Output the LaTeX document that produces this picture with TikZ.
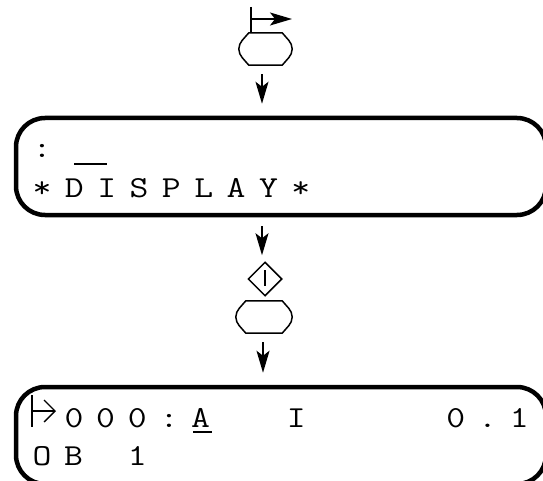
\documentclass[tikz,border=0pt]{standalone}
\usepackage{fontspec}
\usepackage{tikz}
\usetikzlibrary{arrows.meta,calc,shapes.geometric}

\newfontfamily\lcdfont[FakeStretch=1.2]{Latin Modern Mono}
\newcommand{\lcdsetup}{\fontsize{30.5}{30.5}\lcdfont\selectfont\frenchspacing\fontdimen2\font=12.8pt\relax}

\tikzset{
  lcdbox/.style={draw,line width=4.5pt,rounded corners=29pt,minimum width=530pt,minimum height=97pt,inner sep=0pt},
  lcdtext/.style={anchor=base west,inner sep=0pt,font=\lcdsetup},
  keycap/.style={minimum width=#1,minimum height=32pt,inner sep=0pt},
  keyline/.style={line width=1.5pt,line join=round},
  flowarrow/.style={line width=1.5pt,-{Stealth[length=22pt,width=13pt,inset=5pt]}}
}

\begin{document}
\begin{tikzpicture}[x=1pt,y=-1pt]
    \clip (0,0) rectangle (543,481); \useasboundingbox (0,0) rectangle (543,481);
    \coordinate (flow) at (262,0);

    \node[keycap=53pt] (keytop) at (265.5,49) {};
    \node[lcdbox] (lcdone) at (281,166.5) {};
    \node[draw,diamond,line width=1.5pt,minimum size=34pt,inner sep=0pt] (enter) at (265,279) {};
    \node[keycap=56pt] (keylow) at (264,317) {};
    \node[lcdbox] (lcdtwo) at (281,435.5) {};

    % key outlines
    \foreach \k in {keytop,keylow} {
      \draw[keyline] ($(\k.north west)+(10,0)$) -- ($(\k.north east)+(-10,0)$)
        .. controls ($(\k.east)+(-6,-11)$) and ($(\k.east)+(0,-7)$) .. (\k.east)
        .. controls ($(\k.east)+(0,7)$) and ($(\k.east)+(-6,11)$) .. ($(\k.south east)+(-10,0)$)
        -- ($(\k.south west)+(10,0)$)
        .. controls ($(\k.west)+(6,11)$) and ($(\k.west)+(0,7)$) .. (\k.west)
        .. controls ($(\k.west)+(0,-7)$) and ($(\k.west)+(6,-11)$) .. cycle;
    }

    % flag above the first key
    \coordinate (flagfoot) at (251,33);
    \coordinate (flagtop) at (251,7);
    \coordinate (flagjoin) at (251,19);
    \coordinate (flagtip) at (292,19);
    \draw[line width=1.5pt] (flagtop) -- (flagfoot);
    \draw[flowarrow] (flagjoin) -- (flagtip);

    % flow arrows
    \draw[flowarrow,shorten <=9pt,shorten >=12pt] (flow |- keytop.south) -- (flow |- lcdone.north);
    \draw[flowarrow,shorten <=9pt,shorten >=6pt] (flow |- lcdone.south) -- (flow |- enter.north);
    \draw[flowarrow,shorten <=9pt,shorten >=12pt] ($(keylow.south)+(-1,0)$) -- ($(lcdtwo.north)+(-18,0)$);

    % bar in the diamond
    \draw[line width=1.5pt] ($(enter.center)+(0,-9)$) -- ($(enter.center)+(0,7)$);

    % first display
    \node[lcdtext] (dispa) at (32.4,158) {:};
    \node[lcdtext] (dispb) at (32.4,197) {\spaceskip=13.5pt\relax * D I S P L A Y *};
    \coordinate (cursora) at (74,164);
    \coordinate (cursorb) at (107,164);
    \draw[line width=1.5pt] (cursora) -- (cursorb);

    % second display
    \coordinate (markfoot) at (32,427);
    \coordinate (marktop) at (32,395);
    \coordinate (markjoin) at (32,411);
    \coordinate (marktip) at (56,411);
    \draw[line width=1.3pt] (marktop) -- (markfoot);
    \draw[line width=1.3pt,-{Straight Barb[length=11pt,width=22pt]}] (markjoin) -- (marktip);
    \node[lcdtext] (dispc) at (64.4,427) {0 0 0 : A~~~~~~I~~~~~~~~~~~0 . 1};
    \node[lcdtext] (dispd) at (32.4,465) {O B\hspace{44.8pt}1};
    \coordinate (cursorc) at (193,432);
    \coordinate (cursord) at (212,432);
    \draw[line width=2pt] (cursorc) -- (cursord);
\end{tikzpicture}
\end{document}
